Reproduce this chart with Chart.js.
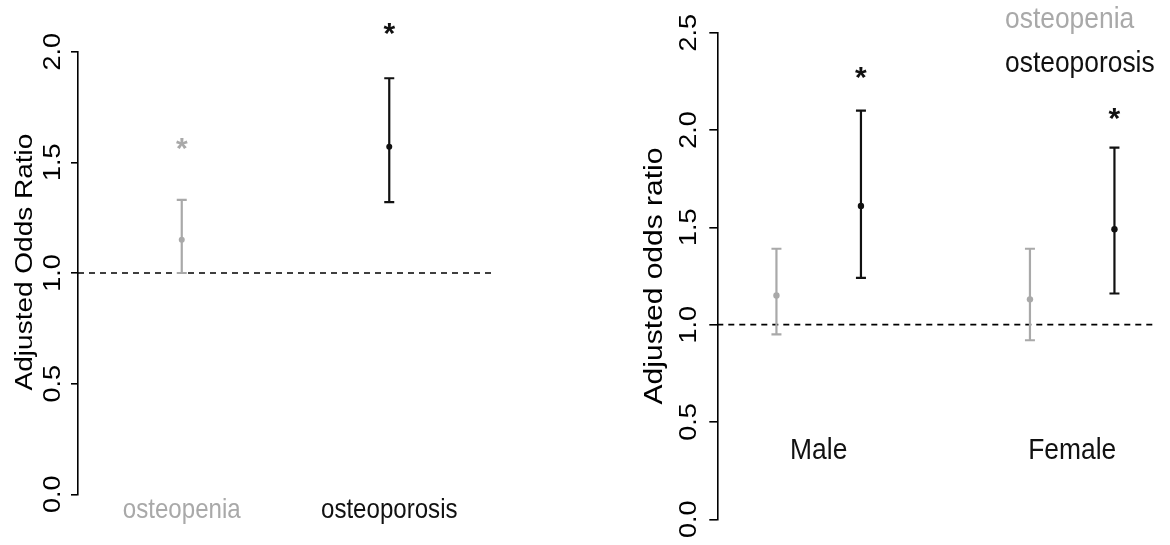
<!DOCTYPE html>
<html>
<head>
<meta charset="utf-8">
<script src="https://cdn.jsdelivr.net/npm/chart.js@4.4.1/dist/chart.umd.min.js"></script>
<style>
  html, body { margin: 0; padding: 0; background: #ffffff; }
  #wrap { position: relative; width: 1170px; height: 545px; overflow: hidden; }
  .panel { position: absolute; top: 0; width: 585px; height: 545px; }
  #p1 { left: 0; }
  #p2 { left: 585px; }
</style>
</head>
<body>
<div id="wrap">
  <div class="panel" id="p1"><canvas id="c1" width="585" height="545"></canvas></div>
  <div class="panel" id="p2"><canvas id="c2" width="585" height="545"></canvas></div>
</div>
<script>
// ---------------- DATA ----------------
// Left panel: overall adjusted odds ratios
const leftCategories = ['osteopenia', 'osteoporosis'];
const leftOR    = [1.15, 1.57];
const leftLower = [1.00, 1.32];
const leftUpper = [1.33, 1.88];
const leftStarLevel = [1.58, 2.10];
const leftYTicks = [0.0, 0.5, 1.0, 1.5, 2.0];
const leftYTickLabels = ['0.0', '0.5', '1.0', '1.5', '2.0'];
const leftYTitle = 'Adjusted Odds Ratio';

// Right panel: by sex
const rightGroups = ['Male', 'Female'];
const rightSeries = ['osteopenia', 'osteoporosis'];
const osteopeniaOR    = [1.15, 1.13];
const osteopeniaLower = [0.95, 0.92];
const osteopeniaUpper = [1.39, 1.39];
const osteoporosisOR    = [1.61, 1.49];
const osteoporosisLower = [1.24, 1.16];
const osteoporosisUpper = [2.10, 1.91];
const osteoporosisStarLevel = [2.29, 2.08];
const rightYTicks = [0.0, 0.5, 1.0, 1.5, 2.0, 2.5];
const rightYTickLabels = ['0.0', '0.5', '1.0', '1.5', '2.0', '2.5'];
const rightYTitle = 'Adjusted odds ratio';

const referenceOR = 1.0;

// ---------------- STYLE ----------------
const GREY = '#a9a9a9';
const BLACK = '#111111';
const FONT = '"Liberation Sans", Arial, Helvetica, sans-serif';

function drawText(ctx, s, x, y, o) {
  ctx.save();
  ctx.translate(x, y);
  ctx.scale(o.sx || 1, 1);
  if (o.rotate) ctx.rotate(-Math.PI / 2);
  ctx.font = (o.weight || 'normal') + ' ' + o.size + 'px ' + FONT;
  ctx.fillStyle = o.color || '#000';
  ctx.textAlign = o.align || 'center';
  ctx.textBaseline = o.baseline || 'middle';
  ctx.fillText(s, 0, 0);
  ctx.restore();
}

function makePanel(canvasId, cfg) {
  const plugin = {
    id: 'ciPanel',
    beforeDatasetsDraw(chart) {
      const { ctx, chartArea } = chart;
      const xs = chart.scales.x, ys = chart.scales.y;
      // dashed reference line
      ctx.save();
      ctx.strokeStyle = '#000';
      ctx.lineWidth = 1.6;
      ctx.setLineDash([6, 5]);
      const yr = ys.getPixelForValue(referenceOR);
      ctx.beginPath();
      ctx.moveTo(chartArea.left, yr);
      ctx.lineTo(chartArea.right, yr);
      ctx.stroke();
      ctx.restore();
      // confidence interval bars
      cfg.bars.forEach(b => {
        const px = xs.getPixelForValue(b.x);
        const pl = ys.getPixelForValue(b.lo);
        const pu = ys.getPixelForValue(b.hi);
        ctx.save();
        ctx.strokeStyle = b.color;
        ctx.lineWidth = 2.2;
        ctx.beginPath();
        ctx.moveTo(px, pl); ctx.lineTo(px, pu);
        ctx.moveTo(px - 5, pl); ctx.lineTo(px + 5, pl);
        ctx.moveTo(px - 5, pu); ctx.lineTo(px + 5, pu);
        ctx.stroke();
        ctx.restore();
      });
    },
    afterDraw(chart) {
      const { ctx, chartArea } = chart;
      const xs = chart.scales.x, ys = chart.scales.y;
      // y tick labels (rotated)
      cfg.yTicks.forEach((v, i) => {
        drawText(ctx, cfg.yTickLabels[i], chartArea.left - cfg.tickLabelOffset, ys.getPixelForValue(v),
          { size: cfg.tickSize, sx: cfg.tickSx, rotate: true, color: '#000' });
      });
      // y title
      drawText(ctx, cfg.yTitle, cfg.titleX, (ys.getPixelForValue(0) + ys.getPixelForValue(cfg.yTicks[cfg.yTicks.length - 1])) / 2 + cfg.titleDy,
        { size: cfg.titleSize, sx: cfg.titleSx, rotate: true, color: '#000' });
      // significance stars
      cfg.stars.forEach(s => {
        const px = xs.getPixelForValue(s.x);
        const py = ys.getPixelForValue(s.y);
        drawText(ctx, '*', px, py + 0.45 * cfg.starSize, { size: cfg.starSize, color: s.color, baseline: 'alphabetic', weight: 'bold' });
      });
      // category / legend texts
      cfg.labels.forEach(l => {
        const px = l.px != null ? l.px : xs.getPixelForValue(l.x);
        const py = l.py != null ? l.py : ys.getPixelForValue(l.y);
        drawText(ctx, l.text, px, py, { size: cfg.labelSize, sx: cfg.labelSx, color: l.color, baseline: 'alphabetic', align: l.align || 'center' });
      });
    }
  };

  return new Chart(document.getElementById(canvasId), {
    type: 'scatter',
    data: { datasets: cfg.datasets },
    options: {
      responsive: false,
      animation: false,
      events: [],
      layout: { padding: cfg.padding },
      plugins: { legend: { display: false }, tooltip: { enabled: false } },
      scales: {
        x: { type: 'linear', min: cfg.xMin, max: cfg.xMax, display: false },
        y: {
          type: 'linear', min: cfg.yTicks[0], max: cfg.yTicks[cfg.yTicks.length - 1],
          afterFit(scale) { scale.width = cfg.axisWidth; },
          afterBuildTicks(scale) { scale.ticks = cfg.yTicks.map(v => ({ value: v })); },
          ticks: { display: false },
          grid: { drawOnChartArea: false, drawTicks: true, tickLength: cfg.tickLength, color: '#000', lineWidth: 1.6 },
          border: { display: true, color: '#000', width: 1.6 }
        }
      }
    },
    plugins: [plugin]
  });
}

// ---------- Left panel ----------
const leftX = leftCategories.map((c, i) => i + 1);
const leftColors = [GREY, BLACK];
makePanel('c1', {
  xMin: 0.5, xMax: 2.5,
  padding: { top: 51.7, bottom: 50.7, left: 0, right: 92 },
  axisWidth: 78,
  tickLength: 7,
  yTicks: leftYTicks, yTickLabels: leftYTickLabels,
  tickLabelOffset: 25, tickSize: 27, tickSx: 0.92,
  yTitle: leftYTitle, titleX: 25, titleDy: -11, titleSize: 28, titleSx: 0.88,
  starSize: 30,
  datasets: leftCategories.map((c, i) => ({
    label: c,
    data: [{ x: leftX[i], y: leftOR[i] }],
    pointRadius: 3, pointBackgroundColor: leftColors[i], pointBorderWidth: 0, showLine: false
  })),
  bars: leftCategories.map((c, i) => ({ x: leftX[i], lo: leftLower[i], hi: leftUpper[i], color: leftColors[i] })),
  stars: leftCategories.map((c, i) => ({ x: leftX[i], y: leftStarLevel[i], color: leftColors[i] })),
  labelSize: 28, labelSx: 0.86,
  labels: leftCategories.map((c, i) => ({ text: c, x: leftX[i], py: 518, color: leftColors[i] }))
});

// ---------- Right panel ----------
const seriesColors = [GREY, BLACK];
const rightPos = (g, s) => g * 3 + s + 1;
const seriesData = [
  { or: osteopeniaOR, lo: osteopeniaLower, hi: osteopeniaUpper },
  { or: osteoporosisOR, lo: osteoporosisLower, hi: osteoporosisUpper }
];
const rightBars = [];
rightGroups.forEach((g, gi) => seriesData.forEach((sd, si) => {
  rightBars.push({ x: rightPos(gi, si), lo: sd.lo[gi], hi: sd.hi[gi], color: seriesColors[si] });
}));
makePanel('c2', {
  xMin: 0.3, xMax: 5.5,
  padding: { top: 32.7, bottom: 25.7, left: 0, right: 13.3 },
  axisWidth: 132.3,
  tickLength: 8,
  yTicks: rightYTicks, yTickLabels: rightYTickLabels,
  tickLabelOffset: 28, tickSize: 27, tickSx: 0.92,
  yTitle: rightYTitle, titleX: 70, titleDy: 0, titleSize: 30, titleSx: 0.88,
  starSize: 30,
  datasets: seriesData.map((sd, si) => ({
    label: rightSeries[si],
    data: rightGroups.map((g, gi) => ({ x: rightPos(gi, si), y: sd.or[gi] })),
    pointRadius: 3.2, pointBackgroundColor: seriesColors[si], pointBorderWidth: 0, showLine: false
  })),
  bars: rightBars,
  stars: rightGroups.map((g, gi) => ({ x: rightPos(gi, 1), y: osteoporosisStarLevel[gi], color: BLACK })),
  labelSize: 30, labelSx: 0.88,
  labels: rightGroups.map((g, gi) => ({ text: g, x: rightPos(gi, 0.5), py: 459, color: BLACK }))
    .concat(rightSeries.map((s, si) => ({ text: s, px: 420, py: si === 0 ? 28 : 72, color: seriesColors[si], align: 'left' })))
});
</script>
</body>
</html>
